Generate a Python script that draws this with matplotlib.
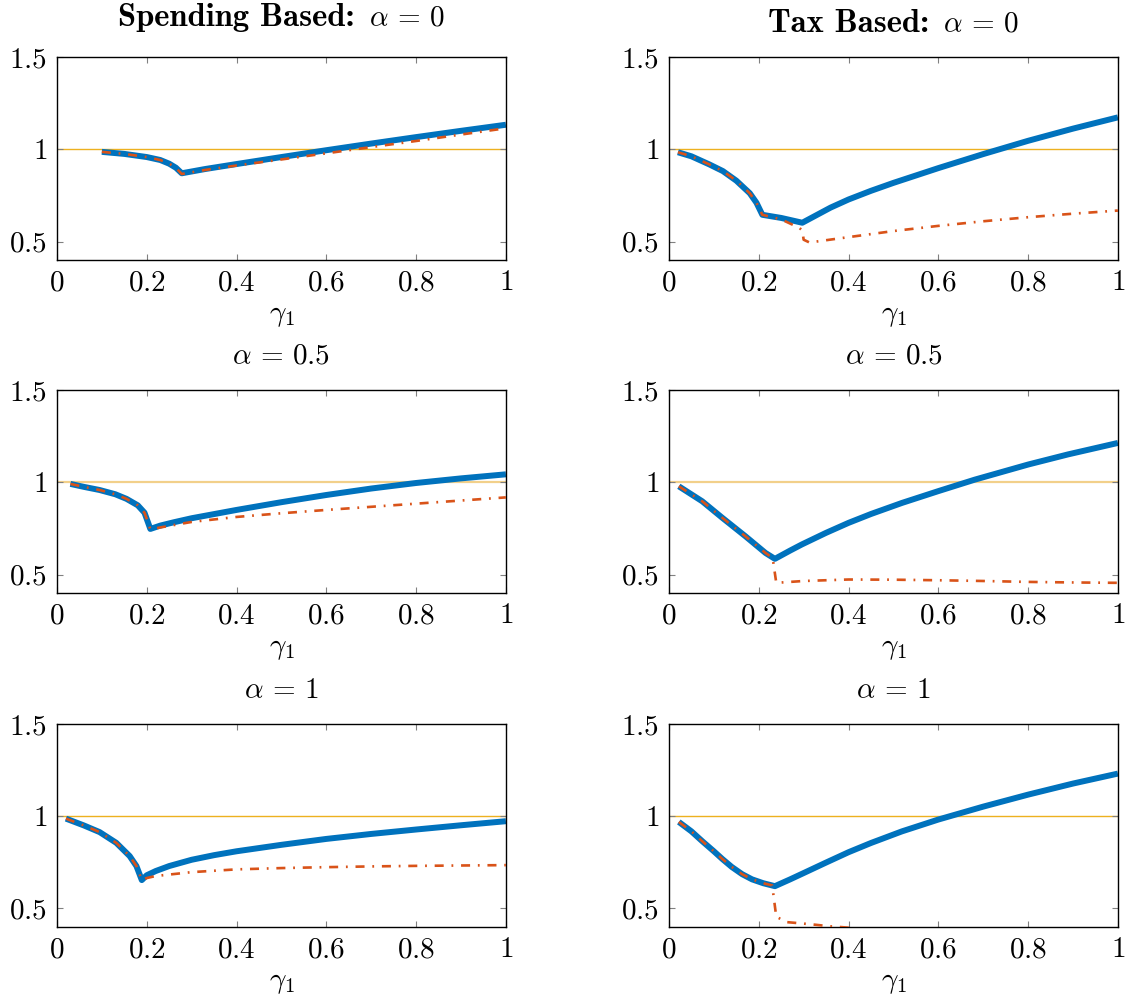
import matplotlib
matplotlib.use('Agg')
import matplotlib.pyplot as plt

plt.rcParams['font.family'] = 'serif'
plt.rcParams['font.serif'] = ['cmr10', 'DejaVu Serif']
plt.rcParams['mathtext.fontset'] = 'cm'
plt.rcParams['axes.unicode_minus'] = False
plt.rcParams['lines.scale_dashes'] = False

# Spending based, alpha = 0
sp0_bx = [0.10, 0.15, 0.20, 0.23, 0.25, 0.265, 0.278, 0.33, 0.40, 0.50, 0.60, 0.70, 0.80, 0.90, 1.00]
sp0_by = [0.986, 0.975, 0.958, 0.942, 0.922, 0.900, 0.870, 0.893, 0.920, 0.958, 0.995, 1.031, 1.066, 1.100, 1.133]
sp0_rx = [0.10, 0.15, 0.20, 0.23, 0.25, 0.265, 0.278, 0.33, 0.40, 0.50, 0.60, 0.70, 0.80, 0.90, 1.00]
sp0_ry = [0.986, 0.975, 0.958, 0.942, 0.922, 0.900, 0.866, 0.888, 0.912, 0.945, 0.978, 1.012, 1.045, 1.080, 1.114]

# Tax based, alpha = 0
tx0_bx = [0.02, 0.05, 0.09, 0.12, 0.15, 0.18, 0.195, 0.208, 0.25, 0.297, 0.33, 0.36, 0.40, 0.45, 0.50, 0.60, 0.70, 0.80, 0.90, 1.00]
tx0_by = [0.984, 0.962, 0.918, 0.882, 0.830, 0.762, 0.710, 0.645, 0.628, 0.602, 0.645, 0.684, 0.728, 0.775, 0.818, 0.898, 0.974, 1.046, 1.112, 1.173]
tx0_rx = [0.02, 0.05, 0.09, 0.12, 0.15, 0.18, 0.195, 0.208, 0.25, 0.29, 0.297, 0.30, 0.313, 0.40, 0.50, 0.60, 0.70, 0.80, 0.90, 1.00]
tx0_ry = [0.984, 0.962, 0.918, 0.882, 0.830, 0.762, 0.710, 0.645, 0.620, 0.575, 0.560, 0.510, 0.495, 0.524, 0.557, 0.585, 0.610, 0.632, 0.651, 0.668]

# Spending based, alpha = 0.5
sp5_bx = [0.03, 0.06, 0.095, 0.13, 0.155, 0.18, 0.195, 0.208, 0.23, 0.26, 0.30, 0.40, 0.50, 0.60, 0.70, 0.80, 0.90, 1.00]
sp5_by = [0.991, 0.975, 0.958, 0.935, 0.910, 0.875, 0.835, 0.747, 0.765, 0.783, 0.805, 0.850, 0.892, 0.931, 0.966, 0.996, 1.021, 1.043]
sp5_rx = [0.03, 0.06, 0.095, 0.13, 0.155, 0.18, 0.195, 0.208, 0.23, 0.30, 0.40, 0.50, 0.60, 0.70, 0.80, 0.90, 1.00]
sp5_ry = [0.991, 0.975, 0.958, 0.935, 0.910, 0.875, 0.835, 0.745, 0.755, 0.785, 0.812, 0.832, 0.850, 0.867, 0.884, 0.901, 0.918]

# Tax based, alpha = 0.5
tx5_bx = [0.022, 0.074, 0.119, 0.17, 0.215, 0.236, 0.27, 0.296, 0.35, 0.40, 0.45, 0.519, 0.60, 0.681, 0.80, 0.889, 1.00]
tx5_by = [0.978, 0.897, 0.807, 0.708, 0.617, 0.585, 0.630, 0.663, 0.726, 0.780, 0.828, 0.888, 0.952, 1.014, 1.096, 1.151, 1.213]
tx5_rx = [0.022, 0.074, 0.119, 0.17, 0.215, 0.231, 0.239, 0.30, 0.40, 0.50, 0.60, 0.70, 0.80, 0.90, 1.00]
tx5_ry = [0.978, 0.897, 0.807, 0.708, 0.617, 0.590, 0.455, 0.465, 0.473, 0.472, 0.469, 0.465, 0.460, 0.457, 0.455]

# Spending based, alpha = 1
sp1_bx = [0.02, 0.06, 0.095, 0.132, 0.162, 0.177, 0.189, 0.20, 0.22, 0.25, 0.30, 0.35, 0.40, 0.50, 0.60, 0.70, 0.80, 0.90, 1.00]
sp1_by = [0.987, 0.950, 0.914, 0.856, 0.784, 0.730, 0.654, 0.680, 0.703, 0.730, 0.764, 0.789, 0.810, 0.845, 0.877, 0.904, 0.928, 0.951, 0.973]
sp1_rx = [0.02, 0.06, 0.095, 0.132, 0.162, 0.177, 0.189, 0.20, 0.22, 0.30, 0.40, 0.50, 0.60, 0.70, 0.80, 0.90, 1.00]
sp1_ry = [0.987, 0.950, 0.914, 0.856, 0.784, 0.730, 0.654, 0.665, 0.676, 0.697, 0.712, 0.719, 0.724, 0.728, 0.731, 0.733, 0.735]

# Tax based, alpha = 1
tx1_bx = [0.022, 0.05, 0.074, 0.10, 0.119, 0.14, 0.163, 0.185, 0.21, 0.236, 0.27, 0.30, 0.35, 0.40, 0.45, 0.519, 0.60, 0.70, 0.80, 0.90, 1.00]
tx1_by = [0.969, 0.918, 0.865, 0.810, 0.768, 0.725, 0.686, 0.658, 0.637, 0.621, 0.658, 0.692, 0.749, 0.805, 0.855, 0.918, 0.982, 1.052, 1.117, 1.177, 1.231]
tx1_rx = [0.022, 0.05, 0.074, 0.10, 0.119, 0.14, 0.163, 0.185, 0.21, 0.23, 0.239, 0.263, 0.296, 0.326, 0.356, 0.385, 0.42]
tx1_ry = [0.969, 0.918, 0.865, 0.810, 0.768, 0.725, 0.686, 0.658, 0.637, 0.625, 0.455, 0.426, 0.419, 0.412, 0.404, 0.399, 0.392]

head_bold = ['Spending Based:', 'Tax Based:']
head_math = [r'$\alpha\,=\,0$', r'$\alpha\,=\,0$']
titles = [r'$\alpha\,=\,0.5$', r'$\alpha\,=\,0.5$', r'$\alpha\,=\,1$', r'$\alpha\,=\,1$']
xticks = [0, 0.2, 0.4, 0.6, 0.8, 1]
xticklabels = ['$0$', '$0.2$', '$0.4$', '$0.6$', '$0.8$', '$1$']
yticks = [0.5, 1, 1.5]
yticklabels = ['$0.5$', '$1$', '$1.5$']

panels = [(sp0_bx, sp0_by, sp0_rx, sp0_ry), (tx0_bx, tx0_by, tx0_rx, tx0_ry),
          (sp5_bx, sp5_by, sp5_rx, sp5_ry), (tx5_bx, tx5_by, tx5_rx, tx5_ry),
          (sp1_bx, sp1_by, sp1_rx, sp1_ry), (tx1_bx, tx1_by, tx1_rx, tx1_ry)]

blue = '#0072BD'
red = '#D95319'
yellow = '#EDB120'
FS = 21

W, H = 1130, 1002
fig = plt.figure(figsize=(W / 100, H / 100), dpi=100)
lefts = [0.0504, 0.592]
bottoms = [0.7405, 0.4082, 0.0749]

for i, (bx, by, rx, ry) in enumerate(panels):
    ax = fig.add_axes([lefts[i % 2], bottoms[i // 2], 0.3973, 0.2026])
    if i // 2 == 1:
        ax.plot([0, 1], [1, 1], color='#F2D08A', lw=1.6, zorder=1)
    else:
        ax.plot([0, 1], [1, 1], color=yellow, lw=1.0, zorder=1)
    ax.plot(bx, by, color=blue, lw=4.3, solid_capstyle='butt', solid_joinstyle='round', zorder=2)
    ax.plot(rx, ry, color=red, lw=1.9, dashes=(6.5, 5.6, 1.3, 5.6), zorder=3)
    ax.set_xlim(0, 1)
    ax.set_ylim(0.4, 1.5)
    ax.set_xticks(xticks)
    ax.set_xticklabels(xticklabels)
    ax.set_yticks(yticks)
    ax.set_yticklabels(yticklabels)
    ax.tick_params(direction='in', top=True, right=True, length=4.5, width=0.8,
                   color='0.5', labelsize=FS, pad=7)
    for s in ax.spines.values():
        s.set_linewidth(1.0)
    ax.set_xlabel(r'$\gamma_1$', fontsize=FS, labelpad=5)
    if i >= 2:
        ax.set_title(titles[i - 2], fontsize=FS, pad=19)

# top row headings: bold words followed by the math part
renderer = fig.canvas.get_renderer()
baselines = [26, 31.5]
for j in range(2):
    t1 = fig.text(0, 0, head_bold[j], family='cmb10', fontsize=23.5, va='baseline')
    t2 = fig.text(0, 0, head_math[j], fontsize=FS, va='baseline')
    w1 = t1.get_window_extent(renderer).width
    w2 = t2.get_window_extent(renderer).width
    gap = 14
    cx = (lefts[j] + 0.3973 / 2) * W
    x0 = cx - (w1 + gap + w2) / 2
    yb = 1 - baselines[j] / H
    t1.set_position((x0 / W, yb))
    t2.set_position(((x0 + w1 + gap) / W, yb))

plt.savefig('out.png', dpi=100)
